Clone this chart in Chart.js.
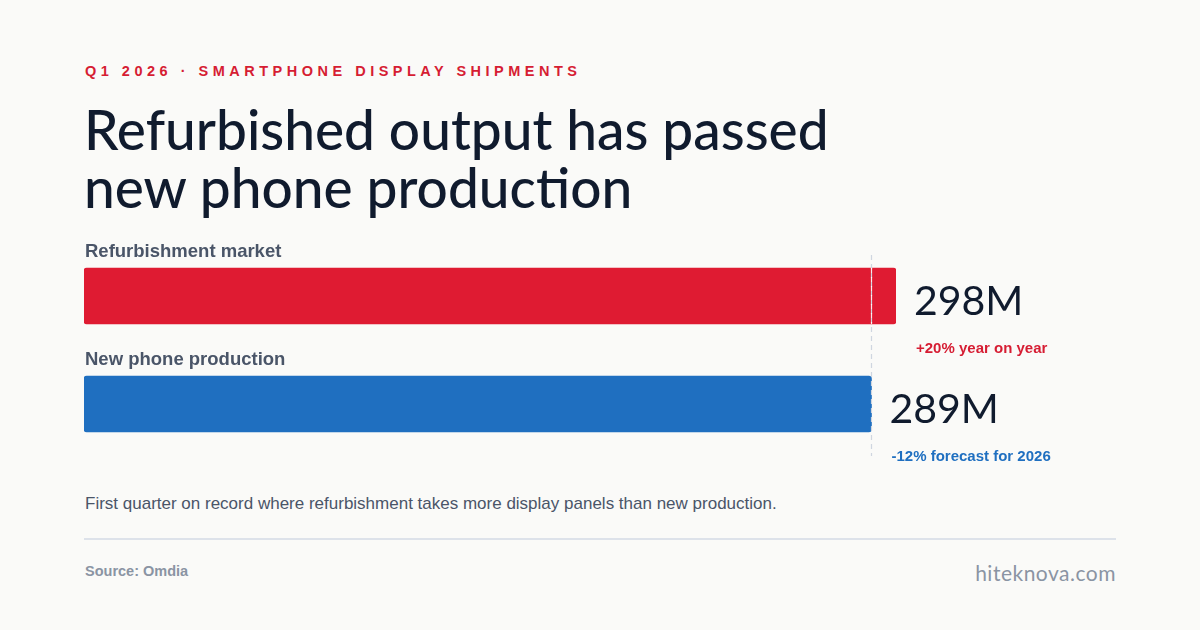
<!DOCTYPE html>
<html><head><meta charset="utf-8">
<script src="https://cdn.jsdelivr.net/npm/chart.js@4"></script>
<style>
html,body{margin:0;padding:0;width:1200px;height:630px;background:#fafaf8;overflow:hidden;font-family:"Liberation Sans",Arial,sans-serif}
.k{position:absolute;left:85px;top:63px;font-size:14.5px;font-weight:bold;letter-spacing:4.5px;color:#d61d33}
.t{position:absolute;left:84px;top:100px;font-family:"Lato","Open Sans",sans-serif;font-size:55px;line-height:58px;color:#101b2e;font-weight:500;letter-spacing:0px}
.f{position:absolute;left:85px;top:494px;font-size:17px;color:#4a5568}
.r{position:absolute;left:84px;top:538px;width:1032px;height:1.5px;background:#dde2ea}
.s{position:absolute;left:85px;top:563px;font-size:14.5px;font-weight:bold;color:#8a94a3}
.h{position:absolute;right:84px;top:560px;font-family:"Lato",sans-serif;font-size:21px;color:#8a94a3;letter-spacing:0.5px}
</style></head><body>
<div class="k">Q1 2026 · SMARTPHONE DISPLAY SHIPMENTS</div>
<div class="t">Refurbished output has passed<br>new phone production</div>
<div class="f">First quarter on record where refurbishment takes more display panels than new production.</div>
<div class="r"></div>
<div class="s">Source: Omdia</div>
<div class="h">hiteknova.com</div>
<div id="cw" style="position:absolute;left:0;top:230px;width:1200px;height:250px"><canvas id="c"></canvas></div>
<script>
const categories = ["Refurbishment market", "New phone production"];
const values = [298, 289];
const valueLabels = ["298M", "289M"];
const notes = ["+20% year on year", "-12% forecast for 2026"];
const colors = ["#df1b32", "#1f6fc0"];
const noteColors = ["#d61d33", "#1f6fc0"];
const refValue = 289;

const overlay = {
  id: 'overlay',
  afterDatasetsDraw(chart) {
    const ctx = chart.ctx, x = chart.scales.x;
    const meta = chart.getDatasetMeta(0);
    const rx = Math.round(x.getPixelForValue(refValue)) + 0.5;
    ctx.save();
    ctx.lineWidth = 1.2; ctx.setLineDash([5, 4]);
    ctx.strokeStyle = '#cfd6e0';
    ctx.beginPath(); ctx.moveTo(rx, 25); ctx.lineTo(rx, 226); ctx.stroke();
    const b0 = meta.data[0];
    ctx.strokeStyle = 'rgba(255,255,255,0.9)';
    ctx.beginPath(); ctx.moveTo(rx, b0.y - 28); ctx.lineTo(rx, b0.y + 28); ctx.stroke();
    ctx.setLineDash([]);
    meta.data.forEach((b, i) => {
      ctx.fillStyle = '#4a5568';
      ctx.font = 'bold 18.5px "Liberation Sans", Arial';
      ctx.textBaseline = 'alphabetic'; ctx.textAlign = 'left';
      ctx.fillText(categories[i], x.getPixelForValue(0) + 1, b.y - 39);
      ctx.fillStyle = '#101b2e';
      ctx.font = '41px Lato, sans-serif';
      ctx.textBaseline = 'middle';
      ctx.fillText(valueLabels[i], b.x + 18, b.y + 6);
      ctx.fillStyle = noteColors[i];
      ctx.font = 'bold 15px "Liberation Sans", Arial';
      ctx.fillText(notes[i], b.x + 20, b.y + 53);
    });
    ctx.restore();
  }
};

new Chart(document.getElementById('c'), {
  type: 'bar',
  data: { labels: categories, datasets: [{ data: values, backgroundColor: colors, barThickness: 56, borderRadius: 3, borderSkipped: false }] },
  options: {
    indexAxis: 'y', responsive: true, maintainAspectRatio: false, animation: false,
    layout: { padding: { left: 84, right: 304, top: 12, bottom: 22 } },
    plugins: { legend: { display: false }, tooltip: { enabled: false } },
    scales: {
      x: { display: false, min: 0, max: 298 },
      y: { display: false }
    }
  },
  plugins: [overlay]
});
</script>
</body></html>
